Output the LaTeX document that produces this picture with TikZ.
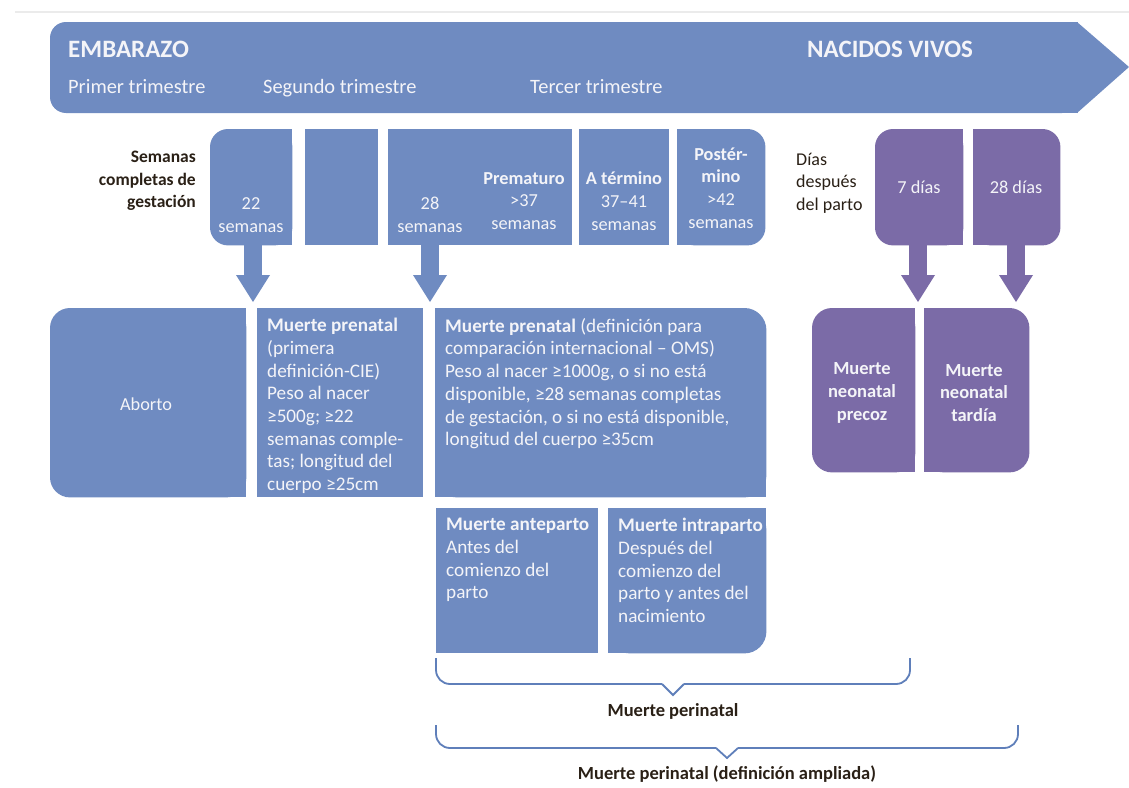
\documentclass[tikz,border=0pt]{standalone}
\usepackage{fontspec}
\setmainfont{Carlito}
\usetikzlibrary{arrows.meta,calc}
\definecolor{cblue}{HTML}{6F8BC1}
\definecolor{cpurp}{HTML}{7B6BA7}
\definecolor{cdark}{HTML}{2A2016}
\definecolor{ctext}{HTML}{F4F4F8}
\definecolor{cbrace}{HTML}{5F7FBA}
\begin{document}
\begin{tikzpicture}[x=1pt,y=-1pt,
  box/.style={draw=none, inner sep=0pt, anchor=north west, rectangle},
  wt/.style={text=ctext, inner sep=0pt, font=\fontsize{18.3}{22.7}\selectfont},
  pt/.style={text=ctext, inner sep=0pt, align=left, anchor=north west, font=\fontsize{19.2}{22.7}\selectfont},
  dk/.style={text=cdark, inner sep=0pt, font=\fontsize{17.5}{22.7}\selectfont},
  hd/.style={text=ctext, inner sep=0pt, anchor=base west, font=\fontsize{20.4}{24}\selectfont},
  hb/.style={text=ctext, inner sep=0pt, anchor=base west, font=\fontsize{25}{28}\selectfont\bfseries},
  barrow/.style={line width=18pt, draw=#1, -{Triangle[length=27pt,width=34pt,line width=0pt]}},
  br/.style={draw=cbrace, line width=1.8pt}]
\useasboundingbox (0,0) rectangle (1129,787);
\fill[white] (0,0) rectangle (1129,787);
\draw[black!8, line width=1.5pt] (15,12) -- (1129,12);

% banner
\fill[cblue, rounded corners=16pt] (50,22) rectangle (1078,113);
\fill[cblue] (600,22) rectangle (1078,113);
\fill[cblue] (1077,22) -- (1129,67) -- (1077,113) -- cycle;
\node[hb] (emb) at (68,57) {EMBARAZO};
\node[hb] (nac) at (807,57) {NACIDOS VIVOS};
\node[hd] (t1) at (68,93) {Primer trimestre};
\node[hd] (t2) at (263,93) {Segundo trimestre};
\node[hd] (t3) at (530,93) {Tercer trimestre};

% week boxes
\node[box, minimum width=82pt, minimum height=116pt] (w1) at (210,129) {};
\node[box, minimum width=73pt, minimum height=116pt] (w2) at (305,129) {};
\node[box, minimum width=184pt, minimum height=116pt] (w3) at (388,129) {};
\node[box, minimum width=90pt, minimum height=116pt] (w4) at (579,129) {};
\node[box, minimum width=88pt, minimum height=116pt] (w5) at (677,129) {};
\fill[cblue, rounded corners=18pt] (w1.north west) rectangle (w1.south east);
\fill[cblue] (w1.north) rectangle (w1.south east);
\fill[cblue] (w2.north west) rectangle (w2.south east);
\fill[cblue] (w3.north west) rectangle (w3.south east);
\fill[cblue] (w4.north west) rectangle (w4.south east);
\fill[cblue, rounded corners=18pt] (w5.north west) rectangle (w5.south east);
\fill[cblue] (w5.north west) rectangle (w5.south);

\node[wt, align=center] at (251,215) {22\\semanas};
\node[wt, align=center] at (430,215) {28\\semanas};
\node[wt, align=center] at (524,201) {\textbf{Prematuro}\\>37\\semanas};
\node[wt, align=center] at (624,201) {\textbf{A término}\\37–41\\semanas};
\node[wt, align=center] at (721,188) {\textbf{Postér-}\\\textbf{mino}\\>42\\semanas};

\node[dk, align=right, anchor=east, font=\fontsize{17.5}{22.7}\selectfont\bfseries] (sem) at (196,181) {Semanas\\completas de\\gestación};

% day boxes
\node[box, minimum width=88pt, minimum height=116pt] (d1) at (875,129) {};
\node[box, minimum width=87pt, minimum height=116pt] (d2) at (973,129) {};
\fill[cpurp, rounded corners=18pt] (d1.north west) rectangle (d1.south east);
\fill[cpurp] (d1.north) rectangle (d1.south east);
\fill[cpurp, rounded corners=18pt] (d2.north west) rectangle (d2.south east);
\fill[cpurp] (d2.north west) rectangle (d2.south);
\node[wt] at (919,187) {7 días};
\node[wt] at (1016,187) {28 días};
\node[dk, align=left, anchor=west, font=\fontsize{18}{22.7}\selectfont] (dias) at (796,183) {Días\\después\\del parto};

% lower boxes
\node[box, minimum width=196pt, minimum height=189pt] (ab) at (50,308) {};
\node[box, minimum width=166pt, minimum height=189pt] (cie) at (257,308) {};
\node[box, minimum width=331pt, minimum height=189pt] (oms) at (435,308) {};
\node[box, minimum width=162pt, minimum height=145pt] (ante) at (436,508) {};
\node[box, minimum width=158pt, minimum height=145pt] (intra) at (608,508) {};
\node[box, minimum width=103pt, minimum height=164pt] (nn1) at (812,308) {};
\node[box, minimum width=105pt, minimum height=164pt] (nn2) at (924,308) {};

\fill[cblue, rounded corners=20pt] (ab.north west) rectangle (ab.south east);
\fill[cblue] (ab.north) rectangle (ab.south east);
\fill[cblue] (cie.north west) rectangle (cie.south east);
\fill[cblue, rounded corners=22pt] (oms.north west) rectangle (oms.south east);
\fill[cblue] (oms.north west) rectangle (oms.south);
\fill[cblue] (oms.west) rectangle (oms.south east);
\fill[cblue] (ante.north west) rectangle (ante.south east);
\fill[cblue, rounded corners=22pt] (intra.north west) rectangle (intra.south east);
\fill[cblue] (intra.north west) rectangle (intra.south);
\fill[cblue] (intra.north west) rectangle (intra.east);
\fill[cpurp, rounded corners=20pt] (nn1.north west) rectangle (nn1.south east);
\fill[cpurp] (nn1.north) rectangle (nn1.south east);
\fill[cpurp, rounded corners=20pt] (nn2.north west) rectangle (nn2.south east);
\fill[cpurp] (nn2.north west) rectangle (nn2.south);

\node[wt] at (146,404) {Aborto};
\node[pt] at (267,318) {\textbf{Muerte prenatal}\\(primera\\definición-CIE)\\Peso al nacer\\≥500g; ≥22\\semanas comple-\\tas; longitud del\\cuerpo ≥25cm};
\node[pt] at (445,318) {\textbf{Muerte prenatal} (definición para\\comparación internacional – OMS)\\Peso al nacer ≥1000g, o si no está\\disponible, ≥28 semanas completas\\de gestación, o si no está disponible,\\longitud del cuerpo ≥35cm};
\node[pt] at (446,518) {\textbf{Muerte anteparto}\\Antes del\\comienzo del\\parto};
\node[pt] at (618,518) {\textbf{Muerte intraparto}\\Después del\\comienzo del\\parto y antes del\\nacimiento};
\node[wt, align=center, font=\fontsize{18.5}{22.7}\selectfont\bfseries] at (862,393) {Muerte\\neonatal\\precoz};
\node[wt, align=center, font=\fontsize{18.5}{22.7}\selectfont\bfseries] at (974,393) {Muerte\\neonatal\\tardía};

% arrows
\coordinate (a1e) at (253,302);
\coordinate (a2e) at (430,302);
\coordinate (a3e) at (918,302);
\coordinate (a4e) at (1016,302);
\draw[barrow=cblue] (w1.south -| a1e) -- (a1e);
\draw[barrow=cblue] (w3.south -| a2e) -- (a2e);
\draw[barrow=cpurp] (d1.south -| a3e) -- (a3e);
\draw[barrow=cpurp] (d2.south -| a4e) -- (a4e);

% braces
\coordinate (b1l) at (436,658);
\coordinate (b1r) at (910,658);
\coordinate (b1t) at (673,695);
\coordinate (b2l) at (436,725);
\coordinate (b2r) at (1018,725);
\coordinate (b2t) at (727,758);
\draw[br, rounded corners=14pt] (b1l) -- (436,684) -- (662,684);
\draw[br] (662,684) -- (b1t) -- (684,684);
\draw[br, rounded corners=14pt] (684,684) -- (910,684) -- (b1r);
\draw[br, rounded corners=14pt] (b2l) -- (436,748) -- (716,748);
\draw[br] (716,748) -- (b2t) -- (738,748);
\draw[br, rounded corners=14pt] (738,748) -- (1018,748) -- (b2r);
\node[dk, font=\fontsize{18.5}{22.7}\selectfont\bfseries] (lp1) at (673,711) {Muerte perinatal};
\node[dk, font=\fontsize{18.5}{22.7}\selectfont\bfseries] (lp2) at (727,774) {Muerte perinatal (definición ampliada)};
\end{tikzpicture}
\end{document}
